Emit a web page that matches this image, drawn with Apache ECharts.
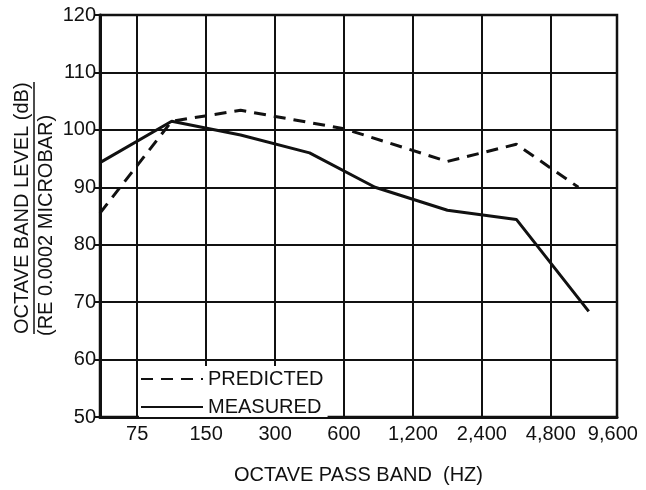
<!DOCTYPE html>
<html style="height: 100%">
<head>
  <meta charset="utf-8">
</head>
<body style="height: 100%; margin: 0; background: #fff">
  <div id="container" style="width: 646px; height: 490px"></div>
  <script src="https://cdn.jsdelivr.net/npm/echarts@6/dist/echarts.min.js"></script>
  <script type="text/javascript">
    // octave bands, one grid column each (position 1..7 on the x axis, last label at the right edge)
    var bandLabels = ['75', '150', '300', '600', '1,200', '2,400', '4,800', '9,600'];
    var bandPos = [1, 2, 3, 4, 5, 6, 7, 7.9];
    var gridPos = [1, 2, 3, 4, 5, 6, 7];

    // curves, x in octave-column units
    var predictedX = [0.46, 1.5, 2.5, 4.0, 5.5, 6.5, 7.4];
    var predictedY = [85.5, 101.5, 103.4, 100.2, 94.5, 97.5, 90.0];
    var measuredX = [0.46, 1.5, 2.5, 3.5, 4.45, 5.5, 6.5, 7.55];
    var measuredY = [94.3, 101.5, 99.1, 96.0, 90.0, 86.0, 84.4, 68.4];

    var font = 'Liberation Sans';
    var ink = '#111';

    function pairs(xs, ys) {
      return xs.map(function (x, i) { return [x, ys[i]]; });
    }

    var myChart = echarts.init(document.getElementById('container'));
    var option = {
      animation: false,
      backgroundColor: '#fff',
      grid: {
        left: 100, right: 29, top: 15, bottom: 68,
        show: true, borderColor: ink, borderWidth: 2.5
      },
      legend: {
        data: ['PREDICTED', 'MEASURED'],
        orient: 'vertical',
        left: 139, top: 366,
        itemWidth: 62, itemHeight: 14, itemGap: 8,
        backgroundColor: '#fff',
        padding: [3, 4, 0, 1],
        itemStyle: { opacity: 0 },
        textStyle: { fontFamily: font, fontSize: 20, color: ink }
      },
      xAxis: {
        type: 'value',
        min: 0.46, max: 7.96,
        name: 'OCTAVE PASS BAND  (HZ)',
        nameLocation: 'middle',
        nameGap: 48,
        nameTextStyle: { fontFamily: font, fontSize: 20, color: ink },
        axisLine: { lineStyle: { color: ink, width: 3 } },
        axisTick: { show: false, customValues: gridPos },
        axisLabel: {
          customValues: bandPos,
          margin: 7,
          fontFamily: font, fontSize: 20, color: ink,
          formatter: function (v) { return bandLabels[bandPos.indexOf(v)]; }
        },
        splitLine: { show: true, lineStyle: { color: ink, width: 2 } }
      },
      yAxis: {
        type: 'value',
        min: 50, max: 120, interval: 10,
        axisLine: { show: true, lineStyle: { color: ink, width: 3 } },
        axisTick: { show: true, length: 5, lineStyle: { color: ink, width: 2 } },
        axisLabel: { margin: 4, fontFamily: font, fontSize: 20, color: ink },
        splitLine: { show: true, lineStyle: { color: ink, width: 2 } }
      },
      series: [
        {
          name: 'PREDICTED',
          type: 'line',
          symbol: 'none',
          color: ink,
          lineStyle: { color: ink, width: 3, type: [12, 8] },
          data: pairs(predictedX, predictedY)
        },
        {
          name: 'MEASURED',
          type: 'line',
          symbol: 'none',
          color: ink,
          lineStyle: { color: ink, width: 3 },
          data: pairs(measuredX, measuredY)
        }
      ],
      graphic: [
        {
          type: 'text', x: 22, y: 334, rotation: Math.PI / 2,
          style: {
            text: 'OCTAVE BAND LEVEL (dB)', fill: ink,
            font: '20px "Liberation Sans"', align: 'left', verticalAlign: 'middle'
          }
        },
        {
          type: 'line',
          shape: { x1: 34, y1: 82, x2: 34, y2: 334 },
          style: { stroke: ink, lineWidth: 1.5 }
        },
        {
          type: 'text', x: 46, y: 336, rotation: Math.PI / 2,
          style: {
            text: '(RE 0.0002 MICROBAR)', fill: ink,
            font: '20px "Liberation Sans"', align: 'left', verticalAlign: 'middle'
          }
        }
      ]
    };
    myChart.setOption(option);
  </script>
</body>
</html>
